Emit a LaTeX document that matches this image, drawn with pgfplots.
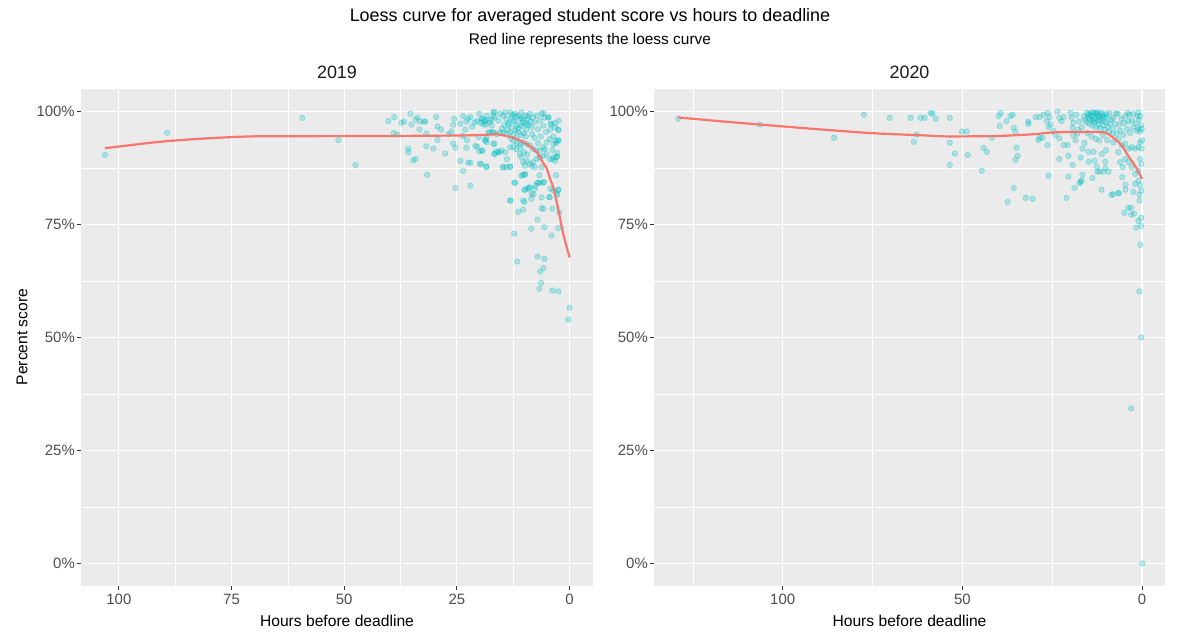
\documentclass[border=0pt]{standalone}
\usepackage{fontspec}
\setmainfont{Liberation Sans}
\usepackage{pgfplots}
\usepackage{pgfplotstable}
\pgfplotsset{compat=1.18}
\definecolor{panelbg}{HTML}{EBEBEB}
\definecolor{ptc}{HTML}{00BFC4}
\definecolor{loessc}{HTML}{F8766D}
\definecolor{tickcol}{HTML}{4D4D4D}
\definecolor{tickmark}{HTML}{333333}

\pgfplotstableread{
h p
103.1 90.4
89.3 95.3
59.3 98.6
51.3 93.7
47.5 88.2
40.2 97.9
38.9 98.8
39.0 95.3
38.2 94.9
37.3 97.5
36.7 97.8
35.3 99.5
35.1 97.1
35.8 91.8
35.8 91.0
34.7 89.2
34.2 89.5
34.2 98.2
33.7 98.7
33.2 97.8
33.3 96.0
32.3 97.8
32.0 97.8
31.8 95.1
31.8 92.3
31.6 86.0
30.2 91.8
29.6 98.8
29.3 96.7
28.5 96.0
29.3 93.7
27.6 90.7
26.9 95.0
26.2 95.6
25.8 97.1
25.6 98.4
25.8 92.9
25.3 92.0
25.3 83.1
24.2 97.3
23.6 99.0
23.7 94.6
23.1 96.0
22.9 97.8
24.2 89.1
23.6 86.9
22.9 92.0
22.8 93.7
22.5 98.4
22.0 98.8
22.5 88.7
22.0 88.7
22.0 83.6
21.6 96.7
21.1 97.6
20.9 92.4
20.5 92.2
20.2 94.4
20.0 99.5
20.5 97.9
19.8 97.5
19.3 98.4
18.9 97.9
18.6 97.1
20.0 91.2
19.3 91.3
19.6 88.4
18.5 87.8
18.6 93.7
18.4 93.2
18.0 98.2
18.0 95.4
17.3 98.2
16.9 99.1
16.7 100.0
17.1 95.4
16.7 92.9
16.7 90.7
16.2 91.2
15.6 91.0
14.8 87.7
13.9 89.5
13.2 87.8
13.1 80.3
12.3 84.2
12.3 73.0
11.6 66.8
11.4 77.8
10.3 78.3
10.0 80.0
10.0 82.7
9.1 83.2
9.9 86.0
10.4 86.0
8.5 74.1
8.0 81.7
8.5 80.7
7.6 83.6
7.1 76.1
7.1 67.9
6.5 64.6
6.3 62.1
6.7 60.8
5.8 65.4
5.6 67.4
5.6 74.4
5.8 78.5
6.2 78.6
6.7 85.9
7.1 84.2
6.5 84.2
5.7 84.4
4.5 81.1
4.0 72.6
3.8 78.5
4.3 82.9
3.6 82.6
3.0 85.9
2.5 82.7
2.7 81.6
2.5 74.2
2.3 77.7
3.8 60.4
2.5 60.2
0.0 56.6
0.3 54.0
2.8 90.1
3.8 89.4
3.0 93.6
2.5 93.6
2.5 96.0
3.6 94.5
4.7 98.7
5.8 99.7
4.2 97.3
3.2 96.5
19.5 98.4
19.1 97.2
18.8 98.0
18.4 99.1
17.7 97.6
17.3 96.9
16.9 99.8
16.6 98.7
15.8 98.0
15.4 99.5
14.7 99.1
14.3 99.8
14.0 98.4
13.6 97.2
13.2 99.8
12.9 98.7
12.5 98.0
12.1 99.5
11.8 96.9
11.4 99.1
11.0 98.4
10.7 99.8
10.3 98.0
9.9 99.1
9.5 97.2
9.2 98.4
8.8 99.5
8.4 96.5
8.1 98.7
7.7 97.6
7.3 99.1
7.0 96.1
6.6 98.0
6.2 99.5
5.8 96.9
5.5 98.7
4.7 98.7
4.0 97.2
2.5 95.9
2.5 93.6
3.6 92.8
4.4 93.9
5.1 93.2
5.8 92.1
6.6 91.4
7.3 91.4
8.1 91.7
8.8 92.5
9.5 92.8
10.3 93.2
11.0 92.8
11.8 94.3
12.5 95.0
13.2 95.4
14.0 95.0
14.7 95.4
15.4 95.4
16.2 95.0
16.9 95.4
17.7 95.4
18.4 94.3
18.8 93.6
16.9 92.8
16.6 90.6
15.8 91.0
15.1 91.4
14.3 91.0
13.2 92.1
12.5 92.1
11.8 91.7
11.0 90.6
10.7 89.9
10.3 88.8
9.9 88.0
9.5 89.1
8.8 88.4
8.1 88.8
7.3 89.5
6.6 89.9
5.8 90.2
5.1 90.6
4.4 89.5
3.6 89.9
3.2 89.1
2.9 89.9
14.7 87.7
14.0 87.7
13.2 87.8
10.7 85.8
9.9 86.2
8.4 88.0
7.7 87.7
6.2 87.7
5.8 84.3
7.0 84.3
7.7 82.9
8.8 83.2
9.2 82.9
9.9 82.7
12.1 84.3
13.2 80.3
10.3 80.3
8.4 81.8
6.2 81.0
4.4 81.0
2.9 81.8
2.5 82.7
19.5 91.4
19.9 88.4
18.4 87.8
13.5 97.5
12.8 96.5
12.2 97.8
11.5 96.2
11.0 97.0
10.5 96.8
10.0 97.5
9.6 96.0
9.1 97.0
8.7 97.8
12.0 95.8
11.3 95.5
10.8 94.8
10.2 95.2
9.7 94.5
13.0 94.0
12.4 93.5
11.7 93.0
10.9 92.0
10.1 91.0
9.4 90.5
11.9 98.9
10.6 98.5
9.3 99.0
12.7 99.3
13.8 96.0
14.5 97.0
15.0 96.2
8.3 95.0
7.8 94.2
7.0 93.0
6.4 94.5
5.2 95.5
4.3 96.0
3.3 97.5
2.4 98.0
3.0 93.0
3.8 91.5
2.7 90.8
5.5 91.7
}\ptsA

\pgfplotstableread{
h p
129.1 98.4
106.3 97.1
85.7 94.2
77.4 99.3
70.2 98.6
64.4 98.6
63.5 93.3
62.7 94.9
61.6 98.6
60.5 98.6
58.8 99.7
58.3 99.5
57.4 98.4
53.5 98.6
53.5 93.1
53.5 88.2
52.1 90.7
50.1 95.6
48.8 95.6
48.5 90.4
44.6 86.9
44.1 92.0
43.2 91.1
41.8 94.2
39.9 99.0
39.3 99.7
39.6 96.8
37.7 97.9
36.6 99.0
36.0 99.3
35.7 96.4
35.2 95.5
34.9 92.0
34.6 90.2
35.2 89.3
35.7 83.1
37.4 80.0
32.4 80.9
30.5 80.7
31.6 97.7
31.6 97.3
29.6 98.8
28.5 98.8
28.5 94.2
27.7 94.2
28.8 93.7
26.3 92.6
26.0 85.8
27.4 99.3
26.3 99.7
25.7 98.8
25.4 97.1
26.5 97.9
26.0 96.6
24.6 95.7
24.1 94.8
23.5 100.0
23.0 98.6
22.4 97.9
21.8 98.8
23.0 89.5
23.0 94.1
21.8 92.6
20.7 92.6
21.0 80.9
20.5 85.6
20.5 90.2
19.9 99.7
19.6 98.6
19.1 97.5
19.3 96.4
19.1 94.8
18.5 93.7
18.0 95.1
19.3 88.2
18.8 83.1
17.4 84.2
17.1 84.5
16.8 84.7
17.1 89.8
16.6 91.8
16.6 86.0
16.0 93.1
15.4 99.7
14.8 99.5
14.2 99.7
13.7 99.0
13.1 99.7
12.6 99.5
12.0 98.8
11.5 99.7
14.6 98.4
13.5 98.2
12.4 97.9
11.3 98.4
10.7 97.9
14.9 91.1
14.8 88.9
13.5 91.1
13.8 85.3
12.4 86.7
13.2 89.1
12.6 87.8
11.8 86.7
11.2 90.6
10.7 86.7
10.2 87.5
10.0 91.5
9.3 86.7
10.2 88.9
11.3 82.7
8.5 81.6
8.1 81.7
6.6 82.0
6.5 81.9
9.1 99.7
8.0 98.6
6.8 99.5
5.7 98.4
4.6 99.0
3.5 99.3
2.4 99.5
1.3 99.0
0.5 99.0
8.0 96.2
7.0 95.1
6.1 95.8
5.2 94.8
4.2 96.2
3.3 95.3
2.4 96.5
1.5 95.8
1.0 96.2
0.5 95.6
0.1 96.2
8.0 93.2
6.6 93.9
5.6 92.5
4.7 92.9
3.8 91.8
2.9 92.1
1.9 91.8
1.0 92.1
0.1 91.8
0.5 93.2
0.0 93.6
6.6 91.0
6.1 88.8
5.4 87.7
4.7 89.5
3.8 88.8
2.9 87.7
1.9 86.2
1.0 86.9
0.5 89.5
0.2 88.4
5.5 85.5
4.6 83.8
4.6 82.7
2.4 82.2
1.9 84.0
1.0 84.7
0.5 83.7
0.2 82.5
0.7 81.6
0.7 80.3
4.9 77.6
3.8 78.7
3.0 78.7
3.0 77.2
2.2 77.4
1.0 75.8
0.2 76.5
1.6 74.3
0.2 74.7
0.5 70.5
0.7 60.2
0.2 50.0
3.0 34.3
-0.1 0.0
16.2 98.9
15.8 98.2
15.5 97.6
15.1 98.8
14.7 97.3
14.4 99.1
14.0 98.0
13.8 96.9
13.3 97.6
13.0 98.5
12.8 96.5
12.3 99.2
12.1 97.2
11.8 98.1
11.6 96.3
11.1 99.0
10.9 97.0
10.5 98.9
10.3 96.0
10.0 97.6
9.8 98.7
9.5 96.6
9.2 95.5
8.9 97.3
8.6 98.2
8.3 95.0
16.8 96.5
17.5 97.8
18.3 99.3
17.8 96.0
15.2 95.3
14.1 94.5
12.9 94.0
11.9 93.6
10.8 94.8
9.7 93.7
13.6 99.8
12.5 99.8
11.0 99.6
9.9 99.4
7.5 97.3
6.3 97.1
5.0 97.5
3.8 97.8
2.8 98.0
1.8 97.4
0.8 98.2
0.3 97.0
7.2 99.6
4.0 99.7
1.0 99.8
}\ptsB

\pgfplotstableread{
h p
103.1 91.9
98 92.5
93 93.1
87.5 93.6
80 94.1
71 94.5
60 94.55
40 94.6
25 94.7
19.9 94.8
17 94.95
16.2 95.0
14 94.6
12.5 94.2
11 93.6
9.5 92.8
8.1 91.8
7 90.6
5.9 88.7
5.1 87.5
4.3 85.0
3.6 83.2
2.5 78.3
1.4 72.9
0 67.7
}\loessA

\pgfplotstableread{
h p
129.1 98.7
115 97.7
100.5 96.75
87 95.9
74.7 95.2
60 94.7
54 94.5
40 94.6
30 95.0
25.6 95.35
18 95.5
10.8 95.4
9 94.8
7 93.6
5.5 92.3
4.2 90.65
2.8 89.0
1.4 87.3
0 85.1
}\loessB

\pgfplotsset{
  facet/.style={
    scale only axis, height=497bp,
    x dir=reverse,
    ymin=-5, ymax=105,
    axis background/.style={fill=panelbg},
    axis line style={draw=none},
    grid=both,
    major grid style={white, line width=1.1bp},
    minor grid style={white, line width=0.55bp},
    tick align=outside,
    major tick length=4bp,
    minor tick length=0bp,
    tick style={tickmark, line width=0.8bp},
    xtick pos=left, ytick pos=left,
    ytick={0,25,50,75,100},
    yticklabels={0\%,25\%,50\%,75\%,100\%},
    minor ytick={12.5,37.5,62.5,87.5},
    tick label style={font=\fontsize{15}{18}\selectfont, text=tickcol},
    /pgf/number format/assume math mode=true,
    xticklabel style={inner sep=0pt, yshift=-4bp},
    yticklabel style={inner sep=0pt, xshift=-2bp},
    clip marker paths=true,
  },
  ptstyle/.style={only marks, mark=*, mark size=2.8bp,
    mark options={draw=ptc, fill=ptc, draw opacity=0.38, fill opacity=0.27, line width=0.5bp}},
  lstyle/.style={no marks, color=loessc, line width=2.2bp, smooth, tension=0.4},
}

\begin{document}
\begin{tikzpicture}[x=1bp,y=1bp]
\path[use as bounding box] (0,0) rectangle (1180,643);

\begin{axis}[facet, at={(81bp,57bp)}, anchor=south west, width=512bp,
  xmin=-5.2, xmax=108.4,
  xtick={0,25,50,75,100}, minor xtick={12.5,37.5,62.5,87.5}]
  \addplot[ptstyle] table[x=h,y=p] {\ptsA};
  \addplot[lstyle] table[x=h,y=p] {\loessA};
\end{axis}

\begin{axis}[facet, at={(654bp,57bp)}, anchor=south west, width=511bp,
  xmin=-6.4, xmax=135.8,
  xtick={0,50,100}, minor xtick={25,75,125}]
  \addplot[ptstyle] table[x=h,y=p] {\ptsB};
  \addplot[lstyle] table[x=h,y=p] {\loessB};
\end{axis}

\node[font=\fontsize{18}{21}\selectfont] at (590,626) {Loess curve for averaged student score vs hours to deadline};
\node[font=\fontsize{15.5}{18}\selectfont] at (590,602) {Red line represents the loess curve};
\node[font=\fontsize{18}{21}\selectfont, text={rgb,255:red,26;green,26;blue,26}] at (337,571) {2019};
\node[font=\fontsize{18}{21}\selectfont, text={rgb,255:red,26;green,26;blue,26}] at (909.5,571) {2020};
\node[font=\fontsize{15.7}{18}\selectfont] at (337,22) {Hours before deadline};
\node[font=\fontsize{15.7}{18}\selectfont] at (909.5,22) {Hours before deadline};
\node[font=\fontsize{15.7}{18}\selectfont, rotate=90] at (22,306) {Percent score};
\end{tikzpicture}
\end{document}
